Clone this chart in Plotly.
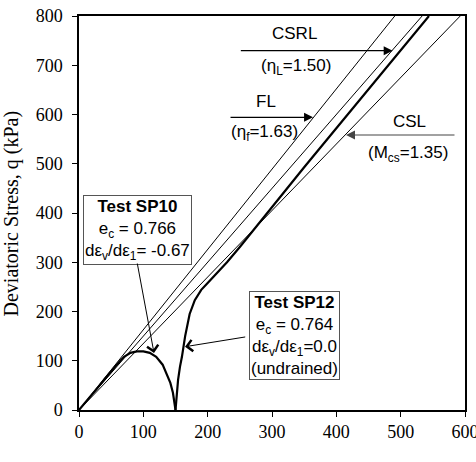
import plotly.graph_objects as go

# ---- data ----
sp10_p = [0, 10, 20, 30, 40, 50, 60, 70, 80, 90, 100, 110, 120, 130, 136, 142, 146, 149, 150]
sp10_q = [0, 15, 31, 47, 63, 79, 94, 108, 116, 119, 119, 116, 108, 92, 75, 55, 35, 12, 0]

sp12_p = [150, 152, 154, 157, 160, 165, 172, 180, 190, 200, 215, 230, 250, 275, 300, 350, 400, 450, 500, 544]
sp12_q = [0, 30, 61, 88, 108, 150, 195, 223, 244, 258, 278, 300, 331, 372, 413, 493, 572, 652, 731, 800]

line_names = ["FL", "CSRL", "CSL"]
line_etas = [1.63, 1.50, 1.35]

x_ticks = [0, 100, 200, 300, 400, 500, 600]
y_ticks = [0, 100, 200, 300, 400, 500, 600, 700, 800]

Q_MAX = 800

fig = go.Figure()

for name, eta in zip(line_names, line_etas):
    fig.add_trace(go.Scatter(x=[0, Q_MAX / eta], y=[0, Q_MAX], mode="lines",
                             line=dict(color="black", width=1), name=name,
                             hoverinfo="skip"))

fig.add_trace(go.Scatter(x=sp10_p, y=sp10_q, mode="lines",
                         line=dict(color="black", width=2.2), name="SP10"))
fig.add_trace(go.Scatter(x=sp12_p, y=sp12_q, mode="lines",
                         line=dict(color="black", width=2.2), name="SP12"))

sans = "Liberation Sans, Arial, sans-serif"
serif = "Liberation Serif, Times New Roman, serif"

ann = []
# line labels
txt = [
    ("CSRL", 334.7, 764.7),
    ("(η<sub>L</sub>=1.50)", 337.3, 697),
    ("FL", 290.7, 626),
    ("(η<sub>f</sub>=1.63)", 289, 562.4),
    ("CSL", 513.4, 585.4),
    ("(M<sub>cs</sub>=1.35)", 511.4, 519.8),
]
for t, x, y in txt:
    ann.append(dict(text=t, x=x, y=y, xref="x", yref="y", showarrow=False,
                    font=dict(family=sans, size=17, color="black"),
                    xanchor="center", yanchor="middle"))

# pointer arrows for the lines
arrows = [
    (487.6, 729.5, 249.2, 729.5, "black"),
    (363.8, 594.3, 233.2, 594.3, "black"),
    (415.0, 558.4, 586.0, 558.4, "#444444"),
]
for x, y, ax, ay, c in arrows:
    ann.append(dict(text="", x=x, y=y, ax=ax, ay=ay, xref="x", yref="y",
                    axref="x", ayref="y", showarrow=True, arrowhead=2,
                    arrowsize=1.5, arrowwidth=1.2, arrowcolor=c))

# test boxes
ann.append(dict(text="<b>Test SP10</b><br>e<sub>c</sub> = 0.766<br>dε<sub>v</sub>/dε<sub>1</sub>= -0.67",
                x=91, y=366.5, xref="x", yref="y", showarrow=False,
                font=dict(family=sans, size=17, color="black"),
                bordercolor="#555555", borderwidth=1, borderpad=1, bgcolor="white",
                xanchor="center", yanchor="middle", align="center"))
ann.append(dict(text="<b>Test SP12</b><br>e<sub>c</sub> = 0.764<br>dε<sub>v</sub>/dε<sub>1</sub>=0.0<br>(undrained)",
                x=334.2, y=150.3, xref="x", yref="y", showarrow=False,
                font=dict(family=sans, size=17, color="black"),
                bordercolor="#555555", borderwidth=1, borderpad=1, bgcolor="white",
                xanchor="center", yanchor="middle", align="center"))
# box arrows
for x, y, ax, ay in [(116.6, 115.7, 90.2, 300.5), (164.8, 128.5, 260.7, 148.8)]:
    ann.append(dict(text="", x=x, y=y, ax=ax, ay=ay, xref="x", yref="y",
                    axref="x", ayref="y", showarrow=True, arrowhead=4,
                    arrowsize=2.2, arrowwidth=1, arrowcolor="black"))

# y-axis title
ann.append(dict(text="Deviatoric Stress, q (kPa)", xref="paper", yref="paper",
                x=-0.175, y=0.5, textangle=-90, showarrow=False,
                font=dict(family=serif, size=20, color="black"),
                xanchor="center", yanchor="middle"))

fig.update_layout(
    width=476, height=462,
    margin=dict(l=79, r=11, t=16, b=52),
    paper_bgcolor="white", plot_bgcolor="white",
    showlegend=False,
    annotations=ann,
    xaxis=dict(range=[0, 600], tickvals=x_ticks, ticks="outside", ticklen=5,
               tickcolor="black", showline=True, linecolor="black", linewidth=1.5,
               mirror=True, showgrid=False, zeroline=False, ticklabeloverflow="allow",
               automargin=False,
               tickfont=dict(family=serif, size=18, color="black")),
    yaxis=dict(range=[0, 800], tickvals=y_ticks, ticks="outside", ticklen=5,
               tickcolor="black", showline=True, linecolor="black", linewidth=1.5,
               mirror=True, showgrid=False, zeroline=False, ticklabelstandoff=6,
               ticklabeloverflow="allow", automargin=False,
               tickfont=dict(family=serif, size=18, color="black")),
)

fig.write_html("out.html")
